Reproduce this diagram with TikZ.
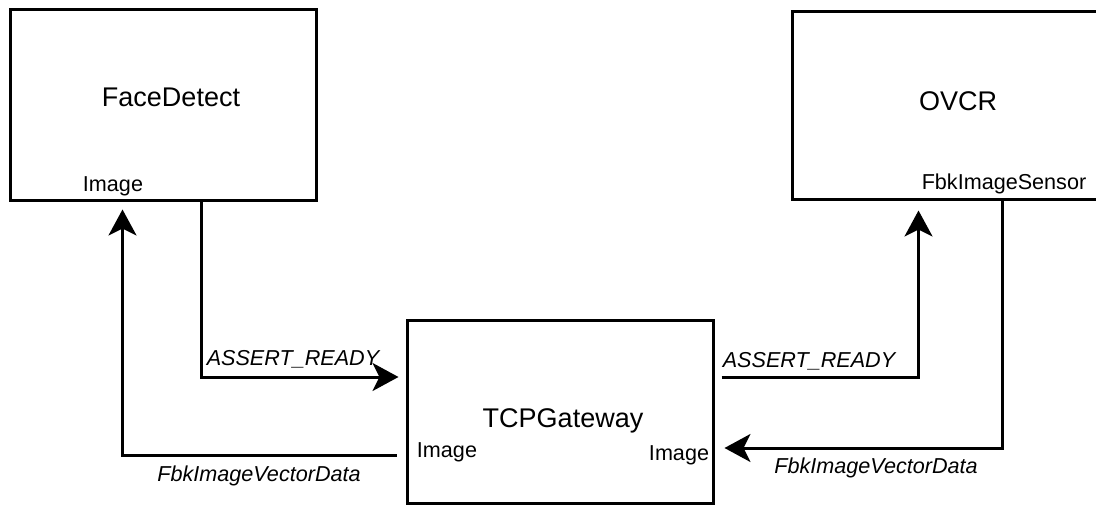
\documentclass[tikz,border=0pt]{standalone}
\usepackage{fontspec}
\setmainfont{Liberation Sans}
\usetikzlibrary{arrows.meta,calc}
\tikzset{
    block/.style={rectangle,draw=black,line width=1.5pt,fill=white,inner sep=0pt},
    title/.style={anchor=base,inner sep=0pt,font=\fontsize{13.5}{16}\selectfont},
    port/.style={anchor=base,inner sep=0pt,font=\fontsize{10.8}{13}\selectfont},
    msg/.style={anchor=base,inner sep=0pt,font=\fontsize{10.8}{13}\selectfont\itshape},
    flow/.style={-{Stealth[length=13pt,width=14pt,inset=3.5pt]},line width=1.5pt,black}
}
\begin{document}
\begin{tikzpicture}[x=0.5pt,y=-0.5pt]
    \useasboundingbox (0,0) rectangle (1096,507);
    \clip (0,0) rectangle (1096,507);
    % Blocks
    \node[block,minimum width=153pt,minimum height=95.5pt] at (163,105.5) (fd) {};
    \node[block,minimum width=154pt,minimum height=94pt] at (946,106) (ov) {};
    \node[block,minimum width=153pt,minimum height=91pt] at (560,412) (tcp) {};
    % Titles and ports
    \node[title] at (171,107) (fdname) {FaceDetect};
    \node[title] at (958,111) (ovname) {OVCR};
    \node[title] at (563,427) (tcpname) {TCPGateway};
    \node[port] at (113,192) (fdimg) {Image};
    \node[port] at (1004,190) (ovsens) {FbkImageSensor};
    \node[port] at (447,457) (tcpimgl) {Image};
    \node[port] at (679,460) (tcpimgr) {Image};
    % Arrows
    \draw[flow,shorten >=3.5pt] ($(fd.south west)+(193,0)$) |- ($(tcp.west)+(0,-35)$);
    \draw[flow,shorten >=3.5pt] ($(tcp.west)+(-9,43)$) -| ($(fd.south west)+(114,0)$);
    \draw[flow,shorten >=4.5pt] ($(tcp.east)+(7,-35)$) -| ($(ov.south west)+(128,0)$);
    \draw[flow,shorten >=5pt] ($(ov.south west)+(212,0)$) |- ($(tcp.east)+(0,36)$);
    % Message labels
    \node[msg] at (293,365) (msgl) {ASSERT\_READY};
    \node[msg] at (809,367) (msgr) {ASSERT\_READY};
    \node[msg] at (259,481) (vecl) {FbkImageVectorData};
    \node[msg] at (876,473) (vecr) {FbkImageVectorData};
\end{tikzpicture}
\end{document}
